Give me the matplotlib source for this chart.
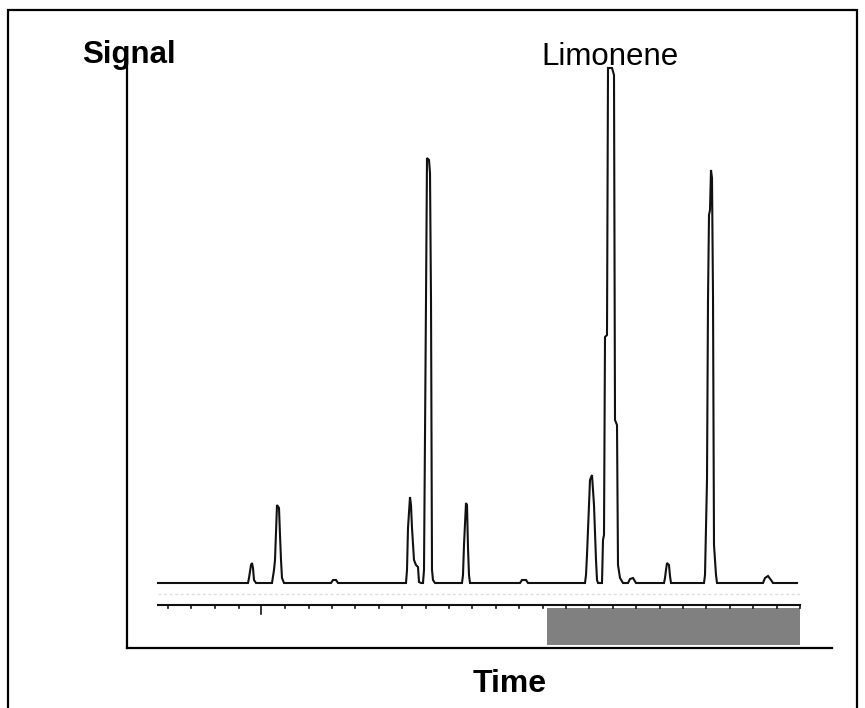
import matplotlib
matplotlib.use("Agg")
import matplotlib.pyplot as plt
from matplotlib.patches import Rectangle

plt.rcParams['font.family'] = ['Liberation Sans', 'DejaVu Sans']

# Chromatogram trace (time in arbitrary units, signal in arbitrary units)
time = [0, 90, 91, 93, 94, 95, 96, 98,
        114, 116, 117, 119, 121, 122, 123, 124, 126,
        173, 175, 178, 180,
        248, 249, 250, 252, 253, 254, 256, 258, 260, 261, 263,
        265, 266, 268, 269, 271, 272, 273, 274, 275, 277,
        304, 305, 306, 308, 309, 310, 311, 312,
        362, 364, 368, 370,
        427, 428, 429, 432, 434, 436, 438, 439, 440,
        444, 445, 446, 447, 449, 450, 454, 456, 457, 459, 460, 462, 465,
        470, 472, 475, 478,
        506, 507, 508, 509, 511, 512, 513,
        546, 547, 549, 550, 551, 552, 553, 554, 555, 556, 558, 559,
        605, 607, 610, 613, 615, 639]
signal = [0, 0, 5, 18, 20, 15, 3, 0,
          0, 13, 23, 78, 75, 48, 23, 5, 0,
          0, 3, 3, 0,
          0, 13, 55, 86, 78, 55, 23, 18, 16, 1, 0,
          0, 13, 283, 425, 423, 410, 283, 13, 3, 0,
          0, 8, 38, 80, 78, 35, 8, 0,
          0, 3, 3, 0,
          0, 8, 28, 103, 108, 78, 23, 3, 0,
          0, 43, 48, 246, 248, 515, 515, 508, 163, 158, 18, 5, 0,
          0, 4, 5, 0,
          0, 5, 13, 20, 18, 7, 0,
          0, 8, 103, 283, 368, 373, 413, 405, 288, 38, 8, 0,
          0, 5, 7, 3, 0, 0]

peak_label = "Limonene"
x_label = "Time"
y_label = "Signal"

# Scale strip below the trace
scale_ticks = [10, 33, 57, 81, 103, 127, 151, 174, 197, 221, 244, 268, 291, 314,
               338, 361, 385, 408, 431, 455, 478, 502, 525, 548, 572, 595, 619, 642]
long_tick = 103
strip_start, strip_end = 0, 642
gray_block_start = 389

W, H = 865, 708
fig = plt.figure(figsize=(W / 100, H / 100), dpi=100)

ax = fig.add_axes([127 / W, 1 - 648 / H, (832 - 127) / W, (648 - 62) / H])
ax.set_xlim(-31, 674)
ax.set_ylim(-65, 521)

ink = '#111111'
ax.plot(time, signal, color=ink, lw=1.5, solid_joinstyle='miter')

# faint noise row
ax.plot([strip_start, strip_end], [-11, -11], color='#dddddd', lw=1.0, ls=(0, (2, 2)))

# scale strip line and ticks
ax.plot([strip_start, strip_end], [-22, -22], color=ink, lw=1.5)
for t in scale_ticks:
    bottom = -31 if t == long_tick else -25
    ax.plot([t, t], [-22, bottom], color=ink, lw=1.2)

# gray block
ax.add_patch(Rectangle((gray_block_start, -62), strip_end - gray_block_start, 37,
                       facecolor='#808080', edgecolor='none'))

for s in ['top', 'right']:
    ax.spines[s].set_visible(False)
for s in ['left', 'bottom']:
    ax.spines[s].set_linewidth(1.6)
    ax.spines[s].set_color('black')
ax.set_xticks([])
ax.set_yticks([])
ax.patch.set_alpha(0)

# texts
fig.text(129 / W, 1 - 63 / H, y_label, ha='center', va='baseline',
         fontsize=22.5, fontweight='bold')
fig.text(610 / W, 1 - 65 / H, peak_label, ha='center', va='baseline',
         fontsize=22.5)
fig.text(510 / W, 1 - 692 / H, x_label, ha='center', va='baseline',
         fontsize=23, fontweight='bold')

# outer border
fig.patches.append(Rectangle((8 / W, -0.05), (857 - 8) / W, 1 - 10 / H + 0.05,
                             transform=fig.transFigure, fill=False,
                             edgecolor='black', lw=1.6))

fig.savefig('out.png', dpi=100)
